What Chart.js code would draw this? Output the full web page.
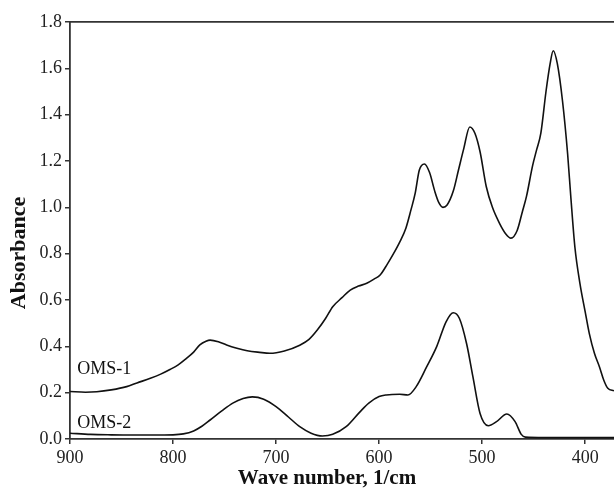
<!DOCTYPE html>
<html>
<head>
<meta charset="utf-8">
<script src="https://cdn.jsdelivr.net/npm/chart.js@4"></script>
<style>
  html, body { margin: 0; padding: 0; background: #fff; }
  #wrap { width: 614px; height: 492px; }
</style>
</head>
<body>
<div id="wrap"><canvas id="c" width="614" height="492"></canvas></div>
<script>
// ---- data ----
const wn1 = [900, 885, 874, 860, 845, 835, 822, 812, 803, 795, 787, 780, 774, 768, 764, 756, 748, 738, 728, 716, 706, 692, 677, 668, 660, 652, 645, 636, 628, 620, 612, 605, 599, 592, 586, 580, 574, 569, 565, 561, 556, 551, 546, 542, 538, 534, 528, 523, 518, 512, 507, 502, 496, 490, 483, 477, 472, 466, 461, 457, 451, 447, 443, 438, 434, 431, 427, 422, 417, 414, 410, 405, 400, 396, 391, 386, 382, 378, 372];
const oms1 = [0.205, 0.202, 0.204, 0.212, 0.226, 0.242, 0.262, 0.28, 0.30, 0.32, 0.348, 0.375, 0.406, 0.422, 0.427, 0.42, 0.406, 0.392, 0.381, 0.374, 0.37, 0.38, 0.405, 0.43, 0.47, 0.52, 0.571, 0.61, 0.643, 0.66, 0.672, 0.69, 0.708, 0.755, 0.80, 0.85, 0.91, 0.99, 1.06, 1.16, 1.187, 1.15, 1.07, 1.02, 1.0, 1.01, 1.07, 1.16, 1.25, 1.347, 1.32, 1.24, 1.09, 1.0, 0.93, 0.885, 0.867, 0.9, 0.98, 1.046, 1.18, 1.25, 1.32, 1.50, 1.62, 1.676, 1.62, 1.46, 1.23, 1.05, 0.83, 0.67, 0.55, 0.456, 0.37, 0.31, 0.255, 0.219, 0.208];

const wn2 = [900, 880, 860, 840, 820, 800, 790, 780, 772, 764, 753, 742, 732, 723, 712, 700, 688, 677, 666, 655, 645, 632, 619, 610, 600, 593, 580, 572, 564, 554, 544, 535, 528, 522, 515, 509, 502, 494, 486, 476, 468, 462, 458, 440, 400, 372];
const oms2 = [0.025, 0.02, 0.018, 0.017, 0.017, 0.018, 0.022, 0.035, 0.055, 0.082, 0.12, 0.155, 0.175, 0.182, 0.172, 0.14, 0.095, 0.053, 0.025, 0.013, 0.02, 0.053, 0.115, 0.155, 0.183, 0.19, 0.193, 0.19, 0.226, 0.31, 0.40, 0.506, 0.545, 0.52, 0.41, 0.27, 0.11, 0.057, 0.075, 0.108, 0.075, 0.02, 0.008, 0.006, 0.006, 0.006];

const xTicks = [900, 800, 700, 600, 500, 400];
const yTicks = [0, 0.2, 0.4, 0.6, 0.8, 1.0, 1.2, 1.4, 1.6, 1.8];
const seriesNames = ['OMS-1', 'OMS-2'];
const xTitle = 'Wave number, 1/cm';
const yTitle = 'Absorbance';

const SERIF = "'Liberation Serif', 'Times New Roman', serif";
const AXIS = '#333';

const pts = (xs, ys) => xs.map((x, i) => ({ x: x, y: ys[i] }));

const textPlugin = {
  id: 'texts',
  afterDraw(chart) {
    const ctx = chart.ctx;
    const xs = chart.scales.x, ys = chart.scales.y;
    ctx.save();
    ctx.fillStyle = '#111';
    ctx.font = '18px ' + SERIF;
    ctx.textAlign = 'left';
    ctx.textBaseline = 'middle';
    ctx.fillText(seriesNames[0], xs.getPixelForValue(893), ys.getPixelForValue(0.30));
    ctx.fillText(seriesNames[1], xs.getPixelForValue(893), ys.getPixelForValue(0.068));
    // axis titles
    ctx.font = 'bold 21px ' + SERIF;
    ctx.textAlign = 'center';
    ctx.fillText(xTitle, 327, 479);
    ctx.save();
    ctx.translate(19, 253);
    ctx.rotate(-Math.PI / 2);
    ctx.font = 'bold 22px ' + SERIF;
    ctx.fillText(yTitle, 0, 0);
    ctx.restore();
    ctx.restore();
  }
};

new Chart(document.getElementById('c'), {
  type: 'line',
  data: {
    datasets: [
      { label: seriesNames[0], data: pts(wn1, oms1), borderColor: '#111', borderWidth: 1.6, pointRadius: 0, fill: false, cubicInterpolationMode: 'monotone' },
      { label: seriesNames[1], data: pts(wn2, oms2), borderColor: '#111', borderWidth: 1.6, pointRadius: 0, fill: false, cubicInterpolationMode: 'monotone' }
    ]
  },
  options: {
    responsive: false,
    animation: false,
    layout: { padding: 0 },
    plugins: { legend: { display: false }, tooltip: { enabled: false } },
    scales: {
      x: {
        type: 'linear', position: 'bottom', reverse: true, min: 372, max: 900,
        afterBuildTicks: s => { s.ticks = xTicks.map(v => ({ value: v })); },
        afterFit: s => { s.height = 53; },
        ticks: { color: '#222', font: { family: SERIF, size: 18 }, padding: 3, maxRotation: 0, autoSkip: false },
        grid: { display: true, drawOnChartArea: false, drawTicks: true, tickLength: 5, color: AXIS, lineWidth: 1.5 },
        border: { display: true, color: AXIS, width: 1.8 }
      },
      x2: {
        type: 'linear', position: 'top', reverse: true, min: 372, max: 900,
        afterFit: s => { s.height = 22; },
        ticks: { display: false },
        grid: { display: true, drawOnChartArea: false, drawTicks: false },
        border: { display: true, color: AXIS, width: 1.8 }
      },
      y: {
        type: 'linear', position: 'left', min: 0, max: 1.8,
        afterBuildTicks: s => { s.ticks = yTicks.map(v => ({ value: v })); },
        afterFit: s => { s.width = 70; },
        ticks: { color: '#222', font: { family: SERIF, size: 18 }, padding: 3, callback: v => Number(v).toFixed(1) },
        grid: { display: true, drawOnChartArea: false, drawTicks: true, tickLength: 5, color: AXIS, lineWidth: 1.5 },
        border: { display: true, color: AXIS, width: 1.8 }
      }
    }
  },
  plugins: [textPlugin]
});
</script>
</body>
</html>
